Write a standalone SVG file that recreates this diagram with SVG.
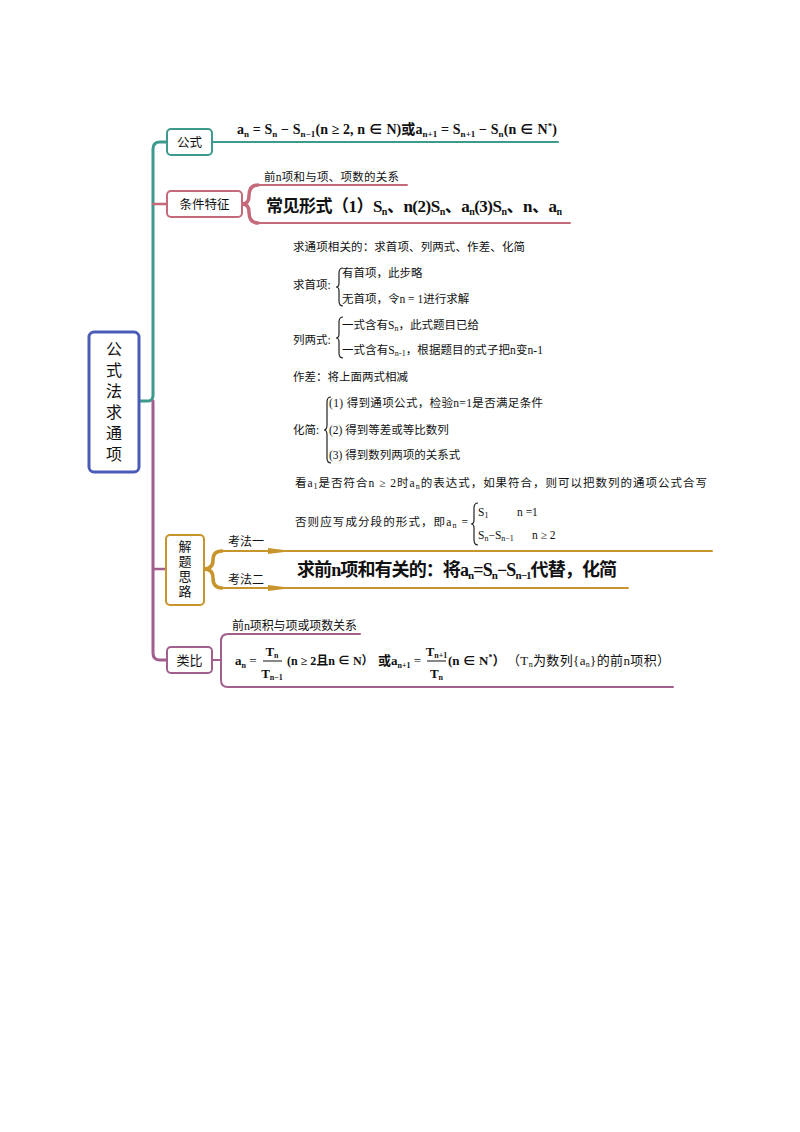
<svg xmlns="http://www.w3.org/2000/svg" width="800" height="1132" viewBox="0 0 800 1132">
<style>
.f{font-family:"Liberation Serif","Noto Sans CJK SC",serif;fill:#111}
.k{font-family:"Noto Sans CJK SC",sans-serif;fill:#111}
.b{font-weight:bold}
.t{font-size:11.5px}
.box{fill:#fff;stroke-width:2}
.ln{fill:none;stroke-linecap:round;stroke-linejoin:round}
.br{fill:none;stroke:#222;stroke-width:1.2}
</style>
<rect width="800" height="1132" fill="#fff"/>
<g id="connectors" class="ln">
  <path d="M139,401 L148,401 Q153,401 153,395 L153,149 Q153,142 160,142 L167,142" stroke="#3e9a8c" stroke-width="3"/>
  <path d="M212,142 L558,142" stroke="#3e9a8c" stroke-width="2"/>
  <path d="M153,204 L167,204" stroke="#c46a7b" stroke-width="2.5"/>
  <path d="M242,204 Q249,204 249,196 Q249,185 258,185" stroke="#c46a7b" stroke-width="3.5"/>
  <path d="M242,204 Q249,204 249,212 Q249,223 258,223" stroke="#c46a7b" stroke-width="3.5"/>
  <path d="M256,185 L407,185" stroke="#c46a7b" stroke-width="2"/>
  <path d="M256,223 L570,223" stroke="#c46a7b" stroke-width="2"/>
  <path d="M153,401 L153,653 Q153,660 160,660 L167,660" stroke="#a05f8c" stroke-width="3"/>
  <path d="M153,569 L167,569" stroke="#a05f8c" stroke-width="2.5"/>
  <path d="M204,569 Q213,569 213,560 Q213,551 222,551" stroke="#c8952c" stroke-width="3.5"/>
  <path d="M204,569 Q213,569 213,578 Q213,588 222,588" stroke="#c8952c" stroke-width="3.5"/>
  <path d="M220,551 L712,551" stroke="#c8952c" stroke-width="2"/>
  <path d="M220,588 L628,588" stroke="#c8952c" stroke-width="2"/>
  <polygon points="268,548 292,551 268,554" fill="#c8952c" stroke="none"/>
  <polygon points="268,585 292,588 268,591" fill="#c8952c" stroke="none"/>
  <path d="M212,660 L221,660" stroke="#a05f8c" stroke-width="2"/>
  <path d="M360,634 L228,634 Q221,634 221,641 L221,680 Q221,687 228,687 L673,687" stroke="#a05f8c" stroke-width="2"/>
</g>
<g id="root">
  <rect x="89" y="332" width="50" height="140" rx="5" fill="#fff" stroke="#4a5cb8" stroke-width="3"/>
  <text class="k" x="114" y="404" font-size="16" text-anchor="middle" writing-mode="vertical-rl" letter-spacing="5">公式法求通项</text>
</g>
<g id="gongshi">
  <rect class="box" x="167" y="129" width="45" height="26" rx="4" stroke="#3e9a8c"/>
  <text class="k" x="189.5" y="146.5" font-size="12.5" text-anchor="middle">公式</text>
  <text class="f b" x="237" y="134" font-size="14" textLength="320">a<tspan font-size="9" dy="3">n</tspan><tspan dy="-3"> = S</tspan><tspan font-size="9" dy="3">n</tspan><tspan dy="-3"> − S</tspan><tspan font-size="9" dy="3">n−1</tspan><tspan dy="-3">(n ≥ 2, n ∈ N)或a</tspan><tspan font-size="9" dy="3">n+1</tspan><tspan dy="-3"> = S</tspan><tspan font-size="9" dy="3">n+1</tspan><tspan dy="-3"> − S</tspan><tspan font-size="9" dy="3">n</tspan><tspan dy="-3">(n ∈ N</tspan><tspan font-size="9" dy="-5">*</tspan><tspan dy="5">)</tspan></text>
</g>
<g id="tiaojian">
  <rect class="box" x="167" y="191" width="75" height="26" rx="4" stroke="#c46a7b"/>
  <text class="k" x="204.5" y="208.5" font-size="12.5" text-anchor="middle">条件特征</text>
  <text class="f" x="264" y="181" font-size="11.5" textLength="135">前n项和与项、项数的关系</text>
  <text class="f b" x="266" y="212" font-size="17" textLength="296">常见形式（1）S<tspan font-size="10" dy="3">n</tspan><tspan dy="-3">、n(2)S</tspan><tspan font-size="10" dy="3">n</tspan><tspan dy="-3">、a</tspan><tspan font-size="10" dy="3">n</tspan><tspan dy="-3">(3)S</tspan><tspan font-size="10" dy="3">n</tspan><tspan dy="-3">、n、a</tspan><tspan font-size="10" dy="3">n</tspan></text>
</g>
<g id="steps">
  <text class="f t" x="293" y="251" textLength="232">求通项相关的：求首项、列两式、作差、化简</text>
  <text class="f t" x="293" y="289">求首项:</text>
  <path class="br" d="M343,268 Q339,268 339,273 L339,283 Q339,287 336,287 Q339,287 339,291 L339,301 Q339,306 343,306"/>
  <text class="f t" x="342" y="277">有首项，此步略</text>
  <text class="f t" x="342" y="303">无首项，令n = 1进行求解</text>
  <text class="f t" x="293" y="344">列两式:</text>
  <path class="br" d="M343,317 Q339,317 339,322 L339,334 Q339,338 336,338 Q339,338 339,342 L339,353 Q339,358 343,358"/>
  <text class="f t" x="342" y="329">一式含有S<tspan font-size="8" dy="2">n</tspan><tspan dy="-2">，此式题目已给</tspan></text>
  <text class="f t" x="342" y="354" textLength="201">一式含有S<tspan font-size="8" dy="2">n-1</tspan><tspan dy="-2">，根据题目的式子把n变n-1</tspan></text>
  <text class="f t" x="293" y="381">作差：将上面两式相减</text>
  <text class="f t" x="293" y="434">化简:</text>
  <path class="br" d="M331,397 Q327,397 327,402 L327,425 Q327,430 324,430 Q327,430 327,435 L327,458 Q327,463 331,463"/>
  <text class="f t" x="329" y="407" textLength="214">(1) 得到通项公式，检验n=1是否满足条件</text>
  <text class="f t" x="329" y="434">(2) 得到等差或等比数列</text>
  <text class="f t" x="329" y="459">(3) 得到数列两项的关系式</text>
  <text class="f t" x="295" y="487" textLength="412">看a<tspan font-size="8" dy="2">1</tspan><tspan dy="-2">是否符合n ≥ 2时a</tspan><tspan font-size="8" dy="2">n</tspan><tspan dy="-2">的表达式，如果符合，则可以把数列的通项公式合写</tspan></text>
  <text class="f t" x="295" y="526" textLength="173">否则应写成分段的形式，即a<tspan font-size="8" dy="2">n</tspan><tspan dy="-2"> =</tspan></text>
  <path class="br" d="M478,503 Q474,503 474,508 L474,520 Q474,524 471,524 Q474,524 474,528 L474,540 Q474,545 478,545"/>
  <text class="f t" x="478" y="516">S<tspan font-size="8" dy="2">1</tspan></text>
  <text class="f t" x="517" y="516">n =1</text>
  <text class="f t" x="478" y="539">S<tspan font-size="8" dy="2">n</tspan><tspan dy="-2">−S</tspan><tspan font-size="8" dy="2">n−1</tspan></text>
  <text class="f t" x="532" y="539">n ≥ 2</text>
</g>
<g id="jieti">
  <rect class="box" x="166" y="535" width="38" height="70" rx="4" stroke="#c8952c"/>
  <text class="k" x="185" y="570" font-size="13" text-anchor="middle" writing-mode="vertical-rl" letter-spacing="2">解题思路</text>
  <text class="k" x="228" y="546" font-size="12">考法一</text>
  <text class="k" x="228" y="584" font-size="12">考法二</text>
  <text class="f b" x="297" y="576" font-size="18" textLength="320">求前n项和有关的：将a<tspan font-size="11" dy="3">n</tspan><tspan dy="-3">=S</tspan><tspan font-size="11" dy="3">n</tspan><tspan dy="-3">−S</tspan><tspan font-size="11" dy="3">n−1</tspan><tspan dy="-3">代替，化简</tspan></text>
</g>
<g id="leibi">
  <rect class="box" x="167" y="647" width="45" height="26" rx="4" stroke="#a05f8c"/>
  <text class="k" x="189.5" y="664.5" font-size="13" text-anchor="middle">类比</text>
  <text class="f" x="232" y="630" font-size="12" textLength="125">前n项积与项或项数关系</text>
  <g class="f b" font-size="13">
    <text x="235" y="665">a<tspan font-size="8" dy="3">n</tspan><tspan dy="-3" font-weight="normal"> =</tspan></text>
    <line x1="263" y1="661" x2="282" y2="661" stroke="#111" stroke-width="1"/>
    <text x="272" y="656" text-anchor="middle">T<tspan font-size="8" dy="2">n</tspan></text>
    <text x="272" y="678" text-anchor="middle">T<tspan font-size="8" dy="2">n−1</tspan></text>
    <text x="287" y="665" font-size="12">(n ≥ 2且n ∈ N）</text>
    <text x="378" y="665">或a<tspan font-size="8" dy="3">n+1</tspan><tspan dy="-3" font-weight="normal"> =</tspan></text>
    <line x1="427" y1="661" x2="446" y2="661" stroke="#111" stroke-width="1"/>
    <text x="436.5" y="656" text-anchor="middle">T<tspan font-size="8" dy="2">n+1</tspan></text>
    <text x="436.5" y="678" text-anchor="middle">T<tspan font-size="8" dy="2">n</tspan></text>
    <text x="448" y="665">(n ∈ N<tspan font-size="8" dy="-5">*</tspan><tspan dy="5">）</tspan></text>
    <text x="507" y="665" font-weight="normal" textLength="163">（T<tspan font-size="8" dy="2">n</tspan><tspan dy="-2">为数列{a</tspan><tspan font-size="8" dy="2">n</tspan><tspan dy="-2">}的前n项积）</tspan></text>
  </g>
</g>
</svg>
